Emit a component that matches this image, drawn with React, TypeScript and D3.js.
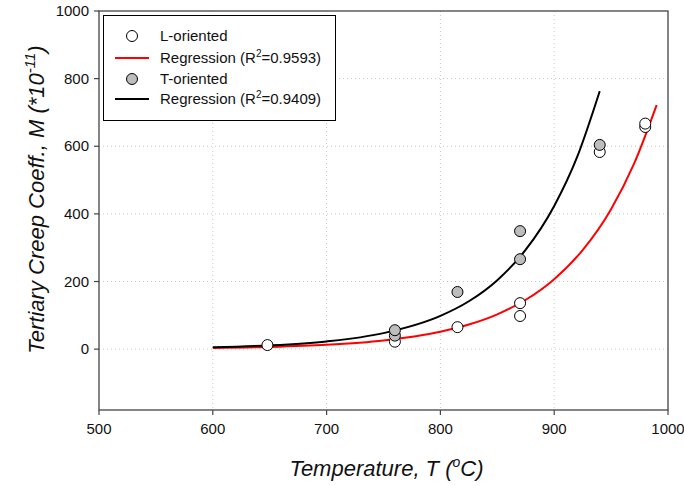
import React from "react";
import * as d3 from "d3";

const xTicks = [500, 600, 700, 800, 900, 1000];
const yTicks = [0, 200, 400, 600, 800, 1000];

// L-oriented specimens (open circles)
const lTemp = [648, 760, 815, 870, 870, 940, 980, 980];
const lCoeff = [12, 22, 65, 136, 98, 583, 657, 667];

// T-oriented specimens (grey circles)
const tTemp = [760, 760, 815, 870, 870, 940];
const tCoeff = [40, 56, 169, 349, 266, 604];

// Regression curves
const redTemp = [600, 650, 700, 750, 800, 825, 850, 875, 900, 925, 950, 970, 990];
const redCoeff = [3.2, 6.4, 12.8, 25.7, 51.4, 72.8, 103, 146, 207, 293, 414, 547, 722];
const blackTemp = [600, 650, 700, 750, 800, 825, 850, 875, 900, 920, 940];
const blackCoeff = [5.3, 11, 22.8, 47.4, 98.3, 141.6, 204, 294, 423.5, 567, 763];

const W = 684;
const H = 486;
const L = 99, R = 668, T = 11, B = 410;

export default function App() {
  const x = d3.scaleLinear().domain([500, 1000]).range([L, R]);
  const y = d3.scaleLinear().domain([-180, 1000]).range([B, T]);
  const line = d3
    .line<[number, number]>()
    .x((d) => x(d[0]))
    .y((d) => y(d[1]))
    .curve(d3.curveMonotoneX);
  const redPts = redTemp.map((t, i) => [t, redCoeff[i]] as [number, number]);
  const blackPts = blackTemp.map((t, i) => [t, blackCoeff[i]] as [number, number]);
  const font = "Arial, 'Liberation Sans', sans-serif";
  const r = 5.5;
  const lf = 15;
  return (
    <svg width={W} height={H} style={{ position: "absolute", left: 0, top: 0, background: "#fff" }} fontFamily={font}>
      <rect x={0} y={0} width={W} height={H} fill="#fff" />
      {/* grid */}
      {xTicks.slice(1, -1).map((t) => (
        <line key={"gx" + t} x1={x(t)} x2={x(t)} y1={T} y2={B} stroke="#c8c8c8" strokeWidth={1} strokeDasharray="1,3" />
      ))}
      {yTicks.slice(0, -1).map((t) => (
        <line key={"gy" + t} x1={L} x2={R} y1={y(t)} y2={y(t)} stroke="#c8c8c8" strokeWidth={1} strokeDasharray="1,3" />
      ))}
      {/* frame */}
      <rect x={L} y={T} width={R - L} height={B - T} fill="none" stroke="#444" strokeWidth={1.3} />
      {/* ticks */}
      {xTicks.map((t) => (
        <g key={"xt" + t}>
          <line x1={x(t)} x2={x(t)} y1={B} y2={B + 5} stroke="#444" strokeWidth={1.2} />
          <text x={x(t)} y={B + 24} textAnchor="middle" fontSize={lf} fill="#111">{t}</text>
        </g>
      ))}
      {yTicks.map((t) => (
        <g key={"yt" + t}>
          <line x1={L - 5} x2={L} y1={y(t)} y2={y(t)} stroke="#444" strokeWidth={1.2} />
          <text x={L - 10} y={y(t) + 5} textAnchor="end" fontSize={lf} fill="#111">{t}</text>
        </g>
      ))}
      {/* curves */}
      <path d={line(redPts) || ""} fill="none" stroke="#ff0000" strokeWidth={2} />
      <path d={line(blackPts) || ""} fill="none" stroke="#000" strokeWidth={2} />
      {/* points */}
      {lTemp.map((t, i) => (
        <circle key={"l" + i} cx={x(t)} cy={y(lCoeff[i])} r={r} fill="#fff" stroke="#000" strokeWidth={1} />
      ))}
      {tTemp.map((t, i) => (
        <circle key={"t" + i} cx={x(t)} cy={y(tCoeff[i])} r={r} fill="#bdbdbd" stroke="#000" strokeWidth={1} />
      ))}
      {/* legend */}
      <rect x={103.5} y={15.5} width={232} height={105} fill="#fff" stroke="#000" strokeWidth={1} />
      <circle cx={132} cy={36} r={r} fill="#fff" stroke="#000" strokeWidth={1} />
      <text x={160} y={41} fontSize={lf} fill="#111">L-oriented</text>
      <line x1={115} x2={149} y1={58} y2={58} stroke="#ff0000" strokeWidth={2} />
      <text x={160} y={63} fontSize={lf} fill="#111">
        Regression (R<tspan dy={-6} fontSize={10}>2</tspan><tspan dy={6}>=0.9593)</tspan>
      </text>
      <circle cx={132} cy={79} r={r} fill="#bdbdbd" stroke="#000" strokeWidth={1} />
      <text x={160} y={84} fontSize={lf} fill="#111">T-oriented</text>
      <line x1={115} x2={149} y1={99} y2={99} stroke="#000" strokeWidth={2} />
      <text x={160} y={104} fontSize={lf} fill="#111">
        Regression (R<tspan dy={-6} fontSize={10}>2</tspan><tspan dy={6}>=0.9409)</tspan>
      </text>
      {/* axis titles */}
      <text x={(L + R) / 2 + 3} y={476} textAnchor="middle" fontSize={22} fontStyle="italic" fill="#111">
        Temperature, T (<tspan dy={-9} fontSize={14}>o</tspan><tspan dy={9}>C)</tspan>
      </text>
      <text transform={`translate(44, ${(T + B) / 2 - 11}) rotate(-90)`} textAnchor="middle" fontSize={22} fontStyle="italic" fill="#111">
        Tertiary Creep Coeff., M (*10<tspan dy={-9} fontSize={15}>-11</tspan><tspan dy={9}>)</tspan>
      </text>
    </svg>
  );
}
